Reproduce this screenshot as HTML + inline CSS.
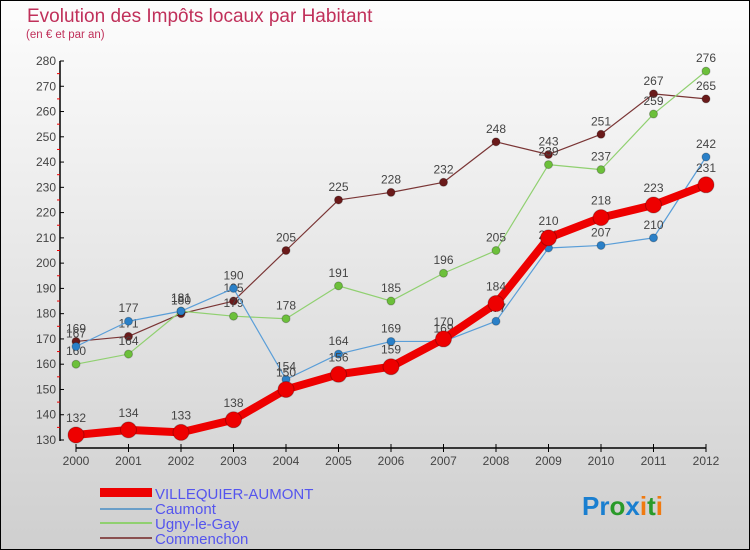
<!DOCTYPE html>
<html><head><meta charset="utf-8"><style>
html,body{margin:0;padding:0}
body{width:750px;height:550px;overflow:hidden;font-family:"Liberation Sans",sans-serif}
#frame{position:absolute;left:0;top:0;width:748px;height:548px;border:1px solid #000;background:linear-gradient(#fdfdfd,#cfcfcf)}
</style></head><body>
<div id="frame">
<svg id="chart" width="750" height="550" style="position:absolute;left:-1px;top:-1px">
<text x="27" y="22" font-size="19" fill="#c0305a">Evolution des Impôts locaux par Habitant</text>
<text x="26" y="38" font-size="11.5" fill="#c0305a">(en € et par an)</text>
<g id="axes"></g><g id="series"></g>
<g>
<rect x="100" y="488" width="52" height="9" fill="#e00"/>
<text x="155" y="499" font-size="15" fill="#5555ee">VILLEQUIER-AUMONT</text>
<rect x="100" y="508" width="52" height="2" fill="#6a9ec8"/>
<text x="155" y="514" font-size="15" fill="#5555ee">Caumont</text>
<rect x="100" y="522" width="52" height="2" fill="#90d070"/>
<text x="155" y="529" font-size="15" fill="#5555ee">Ugny-le-Gay</text>
<rect x="100" y="537" width="52" height="2" fill="#8a5050"/>
<text x="155" y="544" font-size="15" fill="#5555ee">Commenchon</text>
</g>
<text x="582" y="515" font-size="26" font-weight="bold"><tspan fill="#1a7fd0">Pr</tspan><tspan fill="#2a9a2a">o</tspan><tspan fill="#1a7fd0">x</tspan><tspan fill="#f07a10">i</tspan><tspan fill="#2a9a2a">t</tspan><tspan fill="#f07a10">i</tspan></text>
</svg></div>
<script>
const years=[2000,2001,2002,2003,2004,2005,2006,2007,2008,2009,2010,2011,2012];
const yTicks=[130,140,150,160,170,180,190,200,210,220,230,240,250,260,270,280];
const villequier=[132,134,133,138,150,156,159,170,184,210,218,223,231];
const caumont=[167,177,181,190,154,164,169,169,177,206,207,210,242];
const ugny=[160,164,181,179,178,191,185,196,205,239,237,259,276];
const commenchon=[169,171,180,185,205,225,228,232,248,243,251,267,265];
const NS="http://www.w3.org/2000/svg";
const xs=i=>76+i*(706-76)/(years.length-1);
const ys=v=>440-(v-130)*(440-61)/150;
function mk(tag,attrs,parent){const e=document.createElementNS(NS,tag);for(const k in attrs)e.setAttribute(k,attrs[k]);parent.appendChild(e);return e;}
const ax=document.getElementById('axes');
let a=mk('line',{x1:60,y1:61,x2:60,y2:441,stroke:'#000','stroke-width':1.5},ax);


a=mk('line',{x1:76,y1:448,x2:706,y2:448,stroke:'#000','stroke-width':1.5},ax);


yTicks.forEach((v,i)=>{
  mk('line',{x1:60,y1:ys(v),x2:64,y2:ys(v),stroke:'#000'},ax);
  if(i<yTicks.length-1) mk('line',{x1:57,y1:ys(v+5),x2:60,y2:ys(v+5),stroke:'#e00'},ax);
  const t=mk('text',{x:56,y:ys(v)+4,'font-size':12,fill:'#444','text-anchor':'end'},ax);
  t.textContent=v;
  
  
});
years.forEach((y,i)=>{
  mk('line',{x1:xs(i),y1:444,x2:xs(i),y2:452,stroke:'#000'},ax);
  const t=mk('text',{x:xs(i),y:465,'font-size':12,fill:'#444','text-anchor':'middle'},ax);
  t.textContent=y;
  
  
});
const sg=document.getElementById('series');
function series(data,name,color,w,r,dot){
  const g=mk('g',{},sg);
  
  
  const p=mk('polyline',{points:data.map((v,i)=>xs(i)+','+ys(v)).join(' '),fill:'none',stroke:color,'stroke-width':w,'stroke-linejoin':'round'},g);
  
  
  data.forEach((v,i)=>{
    const c=mk('circle',{cx:xs(i),cy:ys(v),r:r,fill:dot,stroke:'rgba(0,0,0,0.25)','stroke-width':1},g);
    
    
    const t=mk('text',{x:xs(i),y:ys(v)-(r+5),'font-size':12,fill:'#444','text-anchor':'middle'},g);
    t.textContent=v;
    
    
  });
}
series(commenchon,'commenchon','#7a3535',1.2,4,'#6a1a1a');
series(ugny,'ugny','#90d070',1.2,4,'#6cc03a');
series(caumont,'caumont','#5a9ed8',1.2,4,'#2a80c8');
series(villequier,'villequier','#e00',8,8,'#e00');
</script>
</body></html>
